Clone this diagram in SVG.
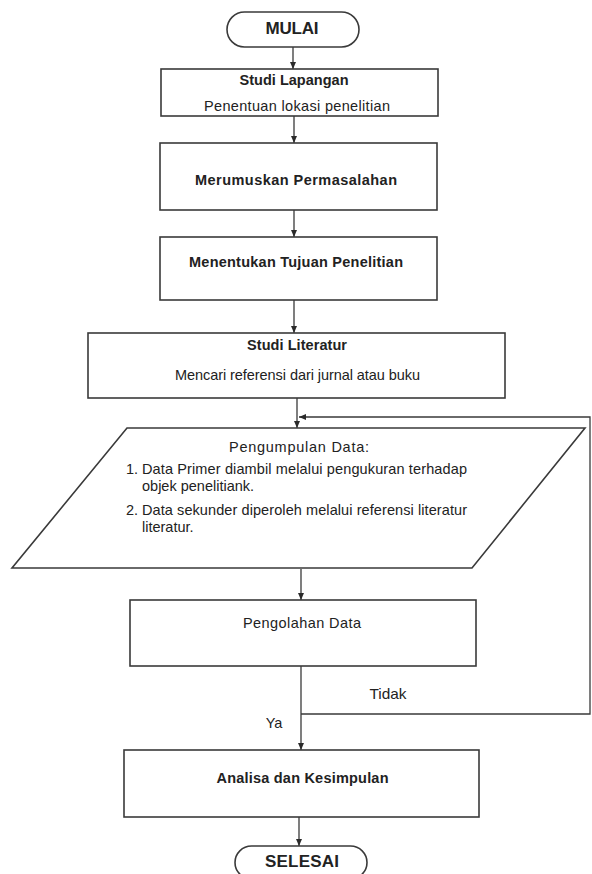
<svg xmlns="http://www.w3.org/2000/svg" width="592" height="874" viewBox="0 0 592 874">
<style>
.bg{fill:#ffffff}
.shape{fill:#ffffff;stroke:#3a3a3a;stroke-width:1.6}
.conn{fill:none;stroke:#3a3a3a;stroke-width:1.3}
text{font-family:"Liberation Sans",Arial,sans-serif;fill:#222222;font-size:14.5px}
.c{text-anchor:middle}
.b{font-weight:bold}
.term{font-weight:bold;font-size:17px}
</style>
<defs>
<marker id="arr" markerUnits="userSpaceOnUse" markerWidth="8" markerHeight="8" viewBox="0 0 8 8" refX="7" refY="4" orient="auto">
<path d="M0,1 L7,4 L0,7 Z" fill="#2a2a2a"/>
</marker>
</defs>
<rect class="bg" x="0" y="0" width="592" height="874"/>

<g id="connectors">
<line class="conn" x1="293" y1="47" x2="293" y2="69" marker-end="url(#arr)"/>
<line class="conn" x1="294" y1="116" x2="294" y2="143" marker-end="url(#arr)"/>
<line class="conn" x1="294" y1="210" x2="294" y2="237" marker-end="url(#arr)"/>
<line class="conn" x1="294" y1="300" x2="294" y2="333" marker-end="url(#arr)"/>
<line class="conn" x1="297" y1="398" x2="297" y2="428" marker-end="url(#arr)"/>
<line class="conn" x1="301" y1="569" x2="301" y2="600" marker-end="url(#arr)"/>
<line class="conn" x1="301" y1="666" x2="301" y2="750" marker-end="url(#arr)"/>
<path class="conn" d="M301,714 H590 V417 H299" marker-end="url(#arr)"/>
<line class="conn" x1="299" y1="817" x2="299" y2="846" marker-end="url(#arr)"/>
<text x="388" y="699" class="c" textLength="37" lengthAdjust="spacingAndGlyphs">Tidak</text>
<text x="274" y="728" class="c">Ya</text>
</g>

<g id="mulai">
<rect class="shape" x="227" y="12" width="132" height="35" rx="17.5" ry="17.5"/>
<text x="292" y="34" class="c term" textLength="53">MULAI</text>
</g>

<g id="studi-lapangan">
<rect class="shape" x="161" y="69" width="277" height="47"/>
<text x="294" y="85" class="c b" textLength="109">Studi Lapangan</text>
<text x="297" y="111" class="c" textLength="186">Penentuan lokasi penelitian</text>
</g>

<g id="merumuskan">
<rect class="shape" x="160" y="143" width="277" height="67"/>
<text x="296" y="185" class="c b" textLength="202">Merumuskan Permasalahan</text>
</g>

<g id="menentukan">
<rect class="shape" x="160" y="237" width="277" height="63"/>
<text x="296" y="267" class="c b" textLength="214">Menentukan Tujuan Penelitian</text>
</g>

<g id="studi-literatur">
<rect class="shape" x="88" y="333" width="417" height="65"/>
<text x="297" y="350" class="c b" textLength="100">Studi Literatur</text>
<text x="297.5" y="380" class="c" textLength="245">Mencari referensi dari jurnal atau buku</text>
</g>

<g id="pengumpulan-data">
<polygon class="shape" points="127,428 585,428 472,568 12,568"/>
<text x="299" y="452" class="c" textLength="140">Pengumpulan Data:</text>
<text x="126" y="474">1.</text>
<text x="142" y="474" textLength="325" lengthAdjust="spacing">Data Primer diambil melalui pengukuran terhadap</text>
<text x="142" y="491">objek penelitiank.</text>
<text x="126" y="515">2.</text>
<text x="142" y="515" textLength="325" lengthAdjust="spacing">Data sekunder diperoleh melalui referensi literatur</text>
<text x="142" y="532">literatur.</text>
</g>

<g id="pengolahan-data">
<rect class="shape" x="130" y="600" width="346" height="66"/>
<text x="302" y="628" class="c" textLength="118">Pengolahan Data</text>
</g>

<g id="analisa">
<rect class="shape" x="124" y="750" width="355" height="67"/>
<text x="302.5" y="783" class="c b" textLength="172">Analisa dan Kesimpulan</text>
</g>

<g id="selesai">
<rect class="shape" x="235" y="846" width="132" height="33" rx="16.5" ry="16.5"/>
<text x="302" y="867" class="c term" textLength="74">SELESAI</text>
</g>
</svg>
